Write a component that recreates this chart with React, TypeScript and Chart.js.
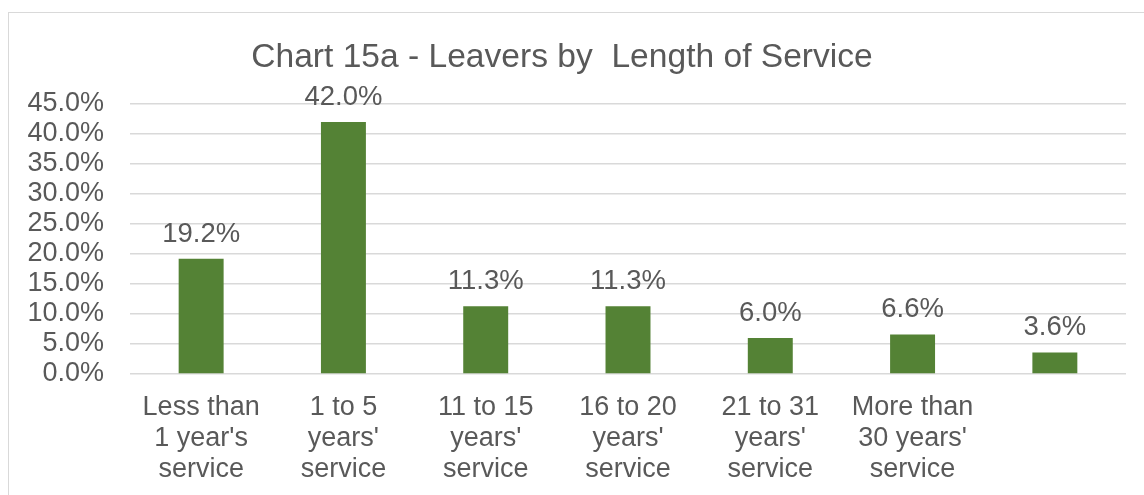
import React, { useEffect, useRef } from "react";
import { Chart, registerables } from "chart.js";

Chart.register(...registerables);

const TITLE = "Chart 15a - Leavers by  Length of Service";
const categories: (string | string[])[] = [
  ["Less than", "1 year's", "service"],
  ["1 to 5", "years'", "service"],
  ["11 to 15", "years'", "service"],
  ["16 to 20", "years'", "service"],
  ["21 to 31", "years'", "service"],
  ["More than", "30 years'", "service"],
  "",
];
const leavers: number[] = [19.2, 42.0, 11.3, 11.3, 6.0, 6.6, 3.6];
const yTicks = { min: 0, max: 45, step: 5 };

const FONT = "'Liberation Sans', Arial, sans-serif";
const TEXT = "#595959";
const GRID = "#d9d9d9";
const BAR = "#548235";

const labelPlugin = {
  id: "barLabels",
  afterDatasetsDraw(chart: any) {
    const ctx = chart.ctx;
    const meta = chart.getDatasetMeta(0);
    ctx.save();
    ctx.font = `27.5px ${FONT}`;
    ctx.fillStyle = TEXT;
    ctx.textAlign = "center";
    ctx.textBaseline = "alphabetic";
    meta.data.forEach((bar: any, i: number) => {
      const v = chart.data.datasets[0].data[i] as number;
      ctx.fillText(v.toFixed(1) + "%", bar.x, bar.y - 17);
    });
    ctx.restore();
  },
};

export default function App() {
  const ref = useRef<HTMLCanvasElement>(null);
  useEffect(() => {
    if (!ref.current) return;
    const chart = new Chart(ref.current, {
      type: "bar",
      data: {
        labels: categories,
        datasets: [
          {
            data: leavers,
            backgroundColor: BAR,
            borderWidth: 0,
            categoryPercentage: 1,
            barPercentage: 0.316,
          },
        ],
      },
      options: {
        responsive: false,
        animation: false,
        layout: { padding: { left: 0, right: 18, top: 91, bottom: 10 } },
        plugins: {
          legend: { display: false },
          title: { display: false },
          tooltip: { enabled: false },
        },
        scales: {
          x: {
            grid: { display: false, drawTicks: false },
            border: { display: false },
            afterFit: (s: any) => {
              s.height = 111;
            },
            ticks: {
              color: TEXT,
              padding: 18,
              maxRotation: 0,
              autoSkip: false,
              font: { family: FONT, size: 27, lineHeight: 1.15 },
            },
          },
          y: {
            min: yTicks.min,
            max: yTicks.max,
            grid: { color: GRID, lineWidth: 1.5, drawTicks: false },
            border: { display: false },
            afterFit: (s: any) => {
              s.width = 121;
            },
            ticks: {
              stepSize: yTicks.step,
              autoSkip: false,
              color: TEXT,
              padding: 26,
              font: { family: FONT, size: 27 },
              callback: (v: any) => Number(v).toFixed(1) + "%",
            },
          },
        },
      },
      plugins: [labelPlugin],
    });
    return () => chart.destroy();
  }, []);

  return (
    <div
      style={{
        position: "absolute",
        left: 8,
        top: 12,
        width: 1136,
        height: 483,
        boxSizing: "border-box",
        borderTop: `1px solid ${GRID}`,
        borderLeft: `1px solid ${GRID}`,
        background: "#fff",
      }}
    >
      <canvas
        ref={ref}
        width={1135}
        height={482}
        style={{ position: "absolute", left: 0, top: 0, width: 1135, height: 482 }}
      />
      <div
        style={{
          position: "absolute",
          left: 0,
          top: 26,
          width: 1106,
          textAlign: "center",
          whiteSpace: "pre",
          fontFamily: FONT,
          fontSize: 33.6,
          lineHeight: "33px",
          color: TEXT,
        }}
      >
        {TITLE}
      </div>
    </div>
  );
}
